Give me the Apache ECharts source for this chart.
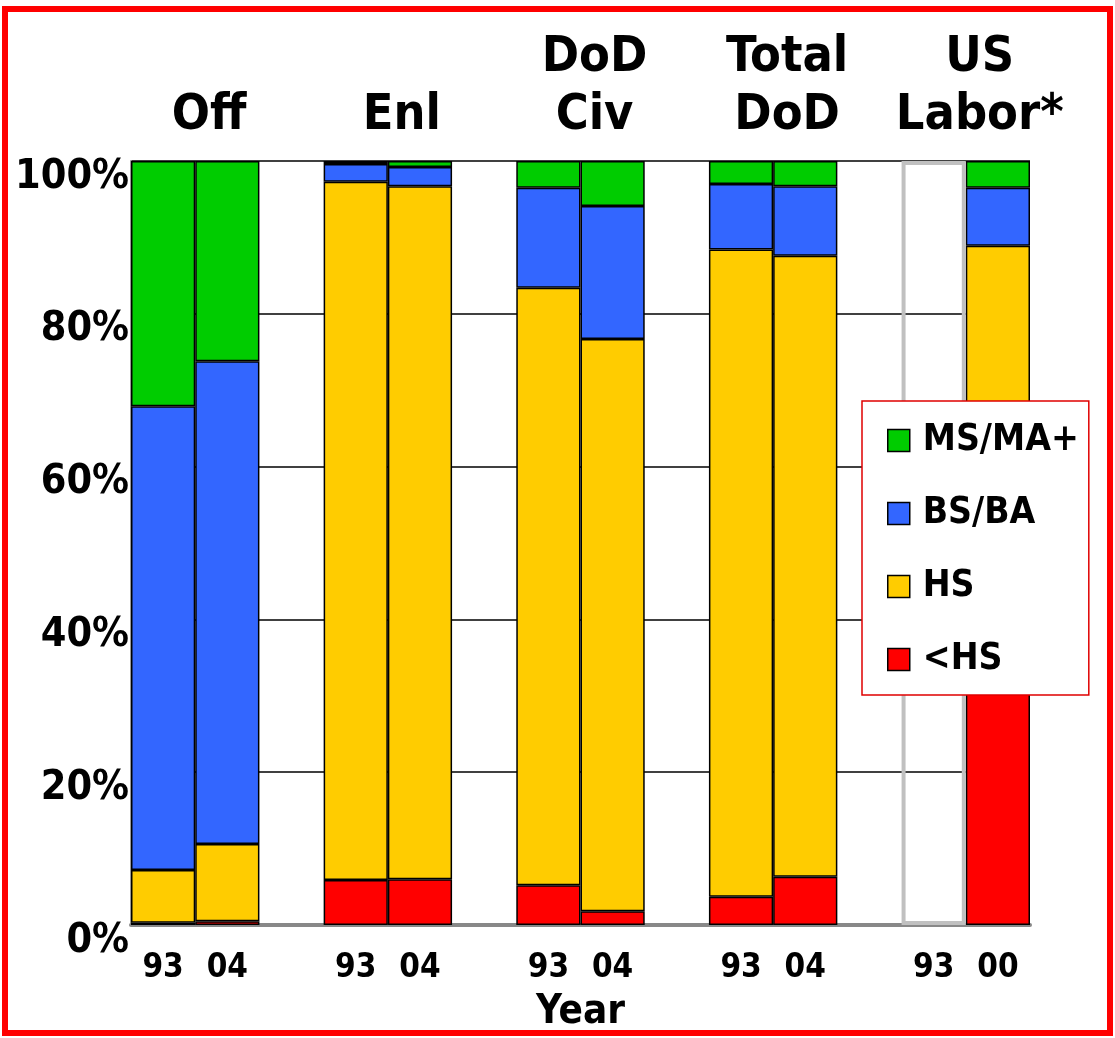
<!DOCTYPE html>
<html>
<head>
<meta charset="utf-8">
<script src="https://cdn.jsdelivr.net/npm/echarts@6/dist/echarts.min.js"></script>
<style>
  html, body { margin: 0; padding: 0; background: #fff; }
  #chart { width: 1115px; height: 1038px; }
</style>
</head>
<body>
<div id="chart"></div>
<script>
// Year labels for each bar slot (empty strings are gaps between groups)
const yearLabels = ['93', '04', '', '93', '04', '', '93', '04', '', '93', '04', '', '93', '00'];
// Group names (shown on top), and the slot position of each group's centre
const groupNames = ['Off', 'Enl', 'DoD\nCiv', 'Total\nDoD', 'US\nLabor*'];
const groupCenters = [1, 4, 7, 10, 13];
// Shares (%) per slot
const lessHS = [0.3, 0.5, null, 5.9, 6.0, null, 5.2, 1.8, null, 3.7, 6.3, null, null, 36.0];
const hs     = [6.9, 10.1, null, 91.4, 90.7, null, 78.2, 74.9, null, 84.7, 81.3, null, null, 52.9];
const bsba   = [60.7, 63.2, null, 2.3, 2.5, null, 13.1, 17.4, null, 8.6, 9.1, null, null, 7.6];
const msma   = [32.1, 26.2, null, 0.4, 0.8, null, 3.5, 5.9, null, 3.0, 3.3, null, null, 3.5];
// US Labor 1993: no data, drawn as an empty outlined bar
const noData = [null, null, null, null, null, null, null, null, null, null, null, null, 100, null];

const FONT = "'DejaVu Sans Condensed', 'DejaVu Sans', sans-serif";
const chart = echarts.init(document.getElementById('chart'), null, { renderer: 'canvas' });

const barBase = {
  type: 'bar',
  stack: 'total',
  barCategoryGap: '0%',
  xAxisIndex: 0
};

const topMap = {};
groupCenters.forEach((c, i) => { topMap[c] = groupNames[i]; });

chart.setOption({
  animation: false,
  backgroundColor: '#fff',
  grid: { left: 131, right: 85, top: 161, bottom: 111, containLabel: false },
  legend: {
    orient: 'vertical',
    left: 862,
    top: 401,
    data: ['MS/MA+', 'BS/BA', 'HS', '<HS'],
    backgroundColor: '#fff',
    borderColor: '#e00000',
    borderWidth: 1.5,
    padding: [21, 10, 17, 25],
    itemWidth: 22,
    itemHeight: 22,
    itemGap: 36,
    icon: 'rect',
    itemStyle: { borderColor: '#000', borderWidth: 1.5 },
    textStyle: { fontFamily: FONT, fontWeight: 'bold', fontSize: 37, color: '#000', lineHeight: 37, padding: [0, 0, 0, 8] }
  },
  xAxis: [
    {
      type: 'category',
      data: yearLabels,
      position: 'bottom',
      axisLine: { lineStyle: { color: '#888', width: 4 } },
      axisTick: { show: false },
      axisLabel: { fontFamily: FONT, fontWeight: 'bold', fontSize: 33, color: '#000', margin: 27, interval: 0 },
      name: 'Year',
      nameLocation: 'middle',
      nameGap: 68,
      nameTextStyle: { fontFamily: FONT, fontWeight: 'bold', fontSize: 40, color: '#000' }
    },
    {
      type: 'value',
      position: 'top',
      min: 0,
      max: 14,
      interval: 1,
      axisLine: { show: false },
      axisTick: { show: false },
      splitLine: { show: false },
      axisLabel: {
        fontFamily: FONT, fontWeight: 'bold', fontSize: 50, color: '#000',
        lineHeight: 58, margin: 16, padding: [0, 0, 0, 28],
        formatter: v => topMap[v] || ''
      }
    }
  ],
  yAxis: {
    type: 'value',
    min: 0,
    max: 100,
    interval: 20,
    axisLine: { show: true, lineStyle: { color: '#999', width: 2 } },
    axisTick: { show: false },
    splitLine: { show: true, lineStyle: { color: '#000', width: 1.5 } },
    axisLabel: {
      fontFamily: FONT, fontWeight: 'bold', fontSize: 41, color: '#000',
      margin: 2, verticalAlign: 'top', lineHeight: 32,
      formatter: '{value}%'
    }
  },
  graphic: [
    {
      type: 'rect',
      shape: { x: 5, y: 9, width: 1105, height: 1024 },
      style: { fill: 'none', stroke: '#ff0000', lineWidth: 6 },
      z: 100,
      silent: true
    }
  ],
  series: [
    Object.assign({}, barBase, { name: '<HS', data: lessHS, itemStyle: { color: '#ff0000', borderColor: '#000', borderWidth: 1.5 } }),
    Object.assign({}, barBase, { name: 'HS', data: hs, itemStyle: { color: '#ffcc00', borderColor: '#000', borderWidth: 1.5 } }),
    Object.assign({}, barBase, { name: 'BS/BA', data: bsba, itemStyle: { color: '#3366ff', borderColor: '#000', borderWidth: 1.5 } }),
    Object.assign({}, barBase, { name: 'MS/MA+', data: msma, itemStyle: { color: '#00cc00', borderColor: '#000', borderWidth: 1.5 } }),
    Object.assign({}, barBase, { name: 'none', data: noData, itemStyle: { color: 'rgba(0,0,0,0)', borderColor: '#c0c0c0', borderWidth: 4 } })
  ]
});
</script>
</body>
</html>
